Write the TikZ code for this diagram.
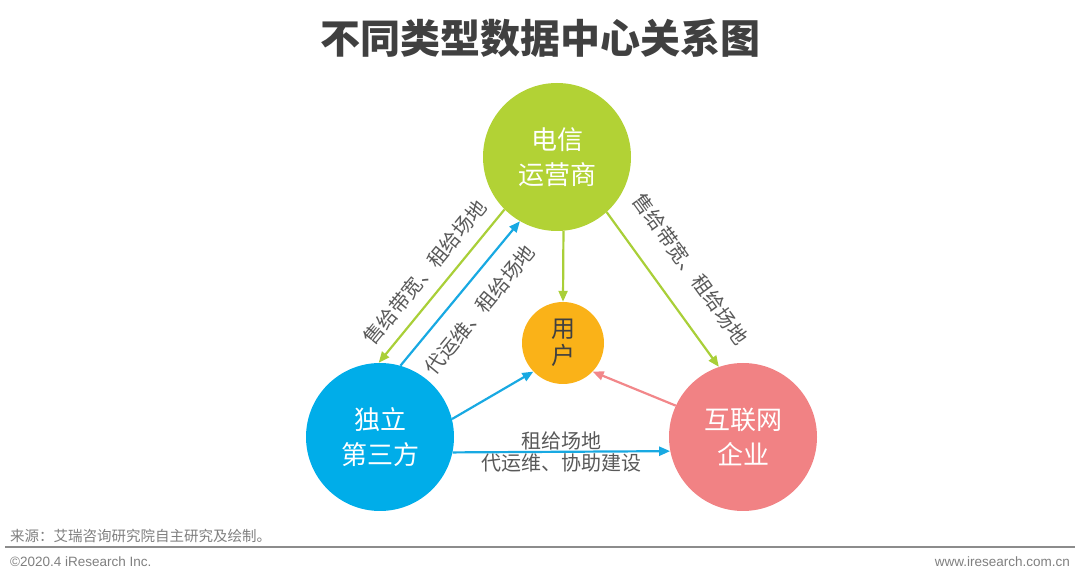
\documentclass[tikz,border=0pt]{standalone}
\usepackage{fontspec}
\setmainfont{Noto Sans CJK SC}
\newfontfamily\latinfont{Liberation Sans}
\usetikzlibrary{arrows.meta}
\definecolor{telgreen}{HTML}{B2D235}
\definecolor{idcblue}{HTML}{00ADE9}
\definecolor{netpink}{HTML}{F18284}
\definecolor{useryellow}{HTML}{FAB218}
\definecolor{arrgreen}{HTML}{A9CF38}
\definecolor{arrblue}{HTML}{18A9E2}
\definecolor{arrpink}{HTML}{F2878A}
\definecolor{titlegray}{HTML}{404040}
\definecolor{labelgray}{HTML}{595959}
\definecolor{footgray}{HTML}{7F7F7F}

\begin{document}
\begin{tikzpicture}
				[x=1pt,y=1pt,
				party/.style={circle, minimum size=148pt, inner sep=0pt, align=center, text=white, font=\fontsize{26}{35}\selectfont},
				flow/.style={line width=2.2pt, -{Triangle[length=11pt,width=9pt]}},
				lbl/.style={text=labelgray, font=\fontsize{20}{24}\selectfont, inner sep=1pt},
				foot/.style={text=footgray, inner sep=0pt}]
				\useasboundingbox (0,0) rectangle (1080,581);
				\node (title) at (540,543) [font=\fontsize{40}{48}\selectfont\bfseries, text=titlegray] {不同类型数据中心关系图};
				\node (tel) at (557,424) [party, fill=telgreen] {电信\\运营商};\node (idc) at (380,144) [party, fill=idcblue] {独立\\第三方};\node (net) at (743,144) [party, fill=netpink] {互联网\\企业};\node (user) at (563,238) [circle, minimum size=82pt, inner sep=0pt, fill=useryellow, text=titlegray, align=center, font=\fontsize{24}{27}\selectfont] {用\\户};
				
				\draw[flow, arrgreen] (tel.225) -- node[lbl, sloped, above=10pt] {售给带宽、租给场地} (idc.91);
				\draw[flow, arrblue] (idc.74) -- node[lbl, sloped, below=14pt] {代运维、租给场地} (tel.240);
				\draw[flow, arrgreen] (tel.275) -- (user.north);
				\draw[flow, arrgreen] (tel.312) -- node[lbl, sloped, above=23pt] {售给带宽、租给场地} (net.109);
				\draw[flow, arrblue] (idc.14) -- (user.224);
				\draw[flow, arrpink] (net.155) -- (user.316);
				\draw[flow, arrblue] (idc.348) -- node[lbl, above=0pt] {租给场地} node[lbl, below=0pt] {代运维、协助建设} (net.191);
				
				\node (src) at (10,45) [foot, anchor=west, font=\fontsize{14.5}{16}\selectfont] {来源：艾瑞咨询研究院自主研究及绘制。};
				\draw[footgray!90, line width=1.6pt] (5,34) -- (1075,34);
				\node (copy) at (10,19) [foot, anchor=west, font=\latinfont\fontsize{13.5}{15}\selectfont] {©2020.4 iResearch Inc.};
				\node (web) at (1070,19) [foot, anchor=east, font=\latinfont\fontsize{13.5}{15}\selectfont] {www.iresearch.com.cn};
			\end{tikzpicture}
\end{document}
